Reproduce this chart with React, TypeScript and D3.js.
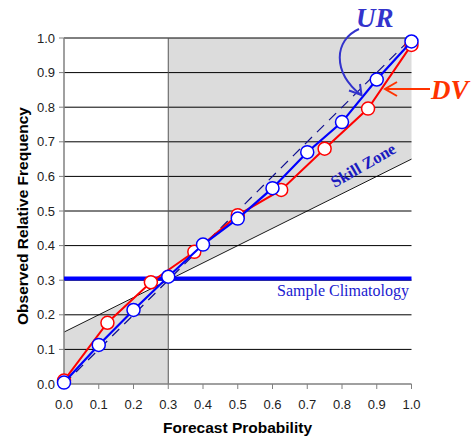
import React from "react";
import * as d3 from "d3";

const yTicks = [0, 0.1, 0.2, 0.3, 0.4, 0.5, 0.6, 0.7, 0.8, 0.9, 1.0];
const xTicks = [0, 0.1, 0.2, 0.3, 0.4, 0.5, 0.6, 0.7, 0.8, 0.9, 1.0];
const urX = [0, 0.1, 0.2, 0.3, 0.4, 0.5, 0.6, 0.7, 0.8, 0.9, 1.0];
const urY = [0.004, 0.113, 0.214, 0.31, 0.403, 0.478, 0.566, 0.67, 0.757, 0.88, 0.99];
const dvX = [0, 0.125, 0.25, 0.375, 0.5, 0.625, 0.75, 0.875, 1.0];
const dvY = [0.01, 0.177, 0.294, 0.382, 0.488, 0.561, 0.68, 0.796, 0.98];
const climatology = 0.305;
const skillClim = 0.3;

export default function App() {
  const x = d3.scaleLinear().domain([0, 1]).range([64, 411.5]);
  const y = d3.scaleLinear().domain([0, 1]).range([384, 38]);
  const line = d3
    .line<[number, number]>()
    .x((d) => x(d[0]))
    .y((d) => y(d[1]));
  const ur: [number, number][] = urX.map((v, i) => [v, urY[i]]);
  const dv: [number, number][] = dvX.map((v, i) => [v, dvY[i]]);
  const noSkill = (p: number) => (p + skillClim) / 2;
  const shade: [number, number][] = [
    [0, 0],
    [0, noSkill(0)],
    [skillClim, skillClim],
    [skillClim, 1],
    [1, 1],
    [1, noSkill(1)],
    [skillClim, skillClim],
    [skillClim, 0],
  ];
  const axisColor = "#808080";
  const sans = "Arial, 'Liberation Sans', sans-serif";
  const serif = "'Times New Roman', 'Liberation Serif', serif";

  return (
    <svg
      width={472}
      height={439}
      style={{ position: "absolute", left: 0, top: 0, background: "#fff" }}
    >
      <path d={line(shade) + "Z"} fill="#dcdcdc" stroke="none" />
      {/* gridlines */}
      {yTicks.slice(1).map((t) => (
        <line key={t} x1={x(0)} x2={x(1)} y1={y(t)} y2={y(t)} stroke="#000" strokeWidth={1} />
      ))}
      {/* no-skill line */}
      <line x1={x(0)} y1={y(noSkill(0))} x2={x(1)} y2={y(noSkill(1))} stroke="#000" strokeWidth={0.9} />
      {/* vertical at climatology */}
      <line x1={x(skillClim)} x2={x(skillClim)} y1={y(0)} y2={y(1)} stroke="#555" strokeWidth={1} />
      {/* axes */}
      <line x1={x(0)} x2={x(0)} y1={y(0)} y2={y(1)} stroke={axisColor} strokeWidth={1.5} />
      <line x1={x(0)} x2={x(1)} y1={y(0)} y2={y(0)} stroke={axisColor} strokeWidth={1.5} />
      {yTicks.map((t) => (
        <g key={"y" + t}>
          <line x1={x(0) - 5} x2={x(0)} y1={y(t)} y2={y(t)} stroke={axisColor} strokeWidth={1} />
          <text x={55} y={y(t) + 4.5} textAnchor="end" fontFamily={sans} fontSize={13} fill="#222">
            {t.toFixed(1)}
          </text>
        </g>
      ))}
      {xTicks.map((t) => (
        <g key={"x" + t}>
          <line x1={x(t)} x2={x(t)} y1={y(0)} y2={y(0) + 5} stroke={axisColor} strokeWidth={1} />
          <text x={x(t)} y={409} textAnchor="middle" fontFamily={sans} fontSize={13} fill="#222">
            {t.toFixed(1)}
          </text>
        </g>
      ))}
      <text x={237.5} y={433} textAnchor="middle" fontFamily={sans} fontSize={15.5} fontWeight="bold">
        Forecast Probability
      </text>
      <text
        transform={`translate(28, 216) rotate(-90)`}
        textAnchor="middle"
        fontFamily={sans}
        fontSize={15.5}
        fontWeight="bold"
      >
        Observed Relative Frequency
      </text>
      {/* perfect reliability */}
      <line x1={x(0)} y1={y(0)} x2={x(1)} y2={y(1)} stroke="#101090" strokeWidth={1.2} strokeDasharray="10,7" />
      {/* climatology */}
      <line x1={x(0)} x2={x(1)} y1={y(climatology)} y2={y(climatology)} stroke="#0000ff" strokeWidth={4} />
      <text x={409} y={296} textAnchor="end" fontFamily={serif} fontSize={16} fill="#2020d0">
        Sample Climatology
      </text>
      <text
        transform={`translate(366, 170) rotate(-30)`}
        textAnchor="middle"
        fontFamily={serif}
        fontSize={16.5}
        fontWeight="bold"
        fill="#1a1ac0"
      >
        Skill Zone
      </text>
      {/* series */}
      <path d={line(dv) || ""} fill="none" stroke="#ff0000" strokeWidth={2} />
      {dv.map((d, i) => (
        <circle key={"dv" + i} cx={x(d[0])} cy={y(d[1])} r={6.5} fill="#fff" stroke="#ff0000" strokeWidth={1.5} />
      ))}
      <path d={line(ur) || ""} fill="none" stroke="#0000ff" strokeWidth={2.2} />
      {ur.map((d, i) => (
        <circle key={"ur" + i} cx={x(d[0])} cy={y(d[1])} r={6.5} fill="#fff" stroke="#0000ff" strokeWidth={1.5} />
      ))}
      {/* UR annotation */}
      <text x={356} y={27} fontFamily={serif} fontSize={27} fontWeight="bold" fontStyle="italic" fill="#3333cc">
        UR
      </text>
      <path d="M359,29 C334,40 332,72 361,95" fill="none" stroke="#3333cc" strokeWidth={2} />
      <path d="M349,90.5 L361.5,95 L360,84" fill="none" stroke="#3333cc" strokeWidth={2} />
      {/* DV annotation */}
      <text x={431} y={99} fontFamily={serif} fontSize={27} fontWeight="bold" fontStyle="italic" fill="#ff3300">
        DV
      </text>
      <line x1={430} y1={89} x2={385} y2={89} stroke="#ff3300" strokeWidth={2} />
      <path d="M397,82 L385,89 L397,96" fill="none" stroke="#ff3300" strokeWidth={2} />
    </svg>
  );
}
